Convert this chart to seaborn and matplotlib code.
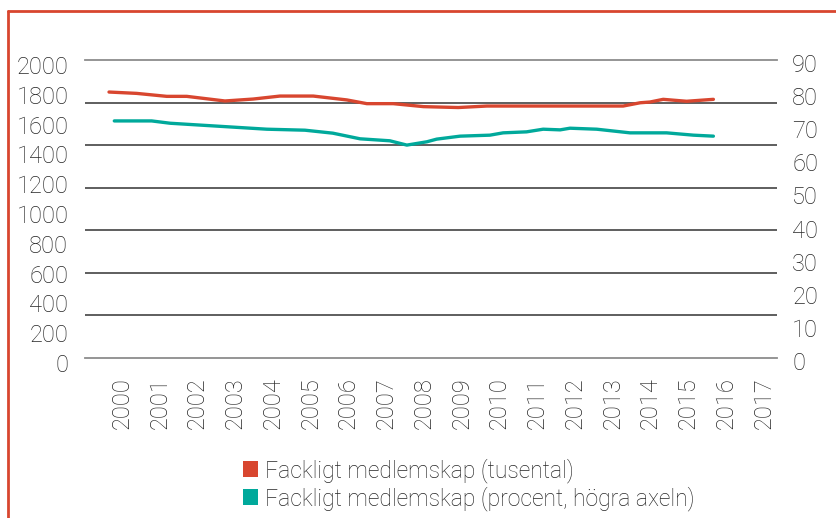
import matplotlib
matplotlib.use("Agg")
import matplotlib.pyplot as plt
import matplotlib.transforms as mtransforms
from matplotlib.patches import Patch
from matplotlib.lines import Line2D
import numpy as np
import seaborn as sns

# --- data ---
years = list(range(2000, 2018))

# fackligt medlemskap, tusental (left axis)
medlem_x = [2000.0, 2000.73, 2001.53, 2002.06, 2003.07, 2003.82, 2004.53, 2005.41,
            2006.30, 2006.83, 2007.53, 2008.33, 2009.25, 2010.01, 2013.62, 2014.07,
            2014.33, 2014.68, 2015.30, 2016.01]
medlem_tusental = [1785, 1776, 1756, 1756, 1725, 1738, 1758, 1758,
                   1732, 1707, 1707, 1687, 1681, 1691, 1691, 1713,
                   1718, 1736, 1723, 1736]

# fackligt medlemskap, procent (right axis)
procent_x = [2000.14, 2001.13, 2001.62, 2004.18, 2005.19, 2005.93, 2006.65, 2007.44,
             2007.89, 2008.42, 2008.68, 2009.30, 2010.09, 2010.44, 2011.06, 2011.50,
             2011.95, 2012.21, 2012.92, 2013.80, 2014.77, 2015.48, 2016.01]
procent = [71.6, 71.6, 70.9, 69.1, 68.8, 67.9, 66.2, 65.6,
           64.3, 65.3, 66.1, 67.0, 67.3, 68.0, 68.3, 69.1,
           68.9, 69.4, 69.1, 68.0, 68.0, 67.3, 67.0]

legend_labels = ["Fackligt medlemskap (tusental)",
                 "Fackligt medlemskap (procent, högra axeln)"]

RED = "#d8462f"
TEAL = "#00a99b"
TXT = "#262626"

sns.set_style("white")
plt.rcParams["font.family"] = ["Roboto", "DejaVu Sans"]

fig = plt.figure(figsize=(8.37, 5.18), dpi=100)
ax = fig.add_axes([85 / 837, 1 - 358 / 518, 692 / 837, 298 / 518])
ax2 = ax.twinx()

sns.lineplot(x=medlem_x, y=medlem_tusental, ax=ax, color=RED, lw=2.4, legend=False)
sns.lineplot(x=procent_x, y=procent, ax=ax2, color=TEAL, lw=2.4, legend=False)

ax.set_xlim(1999.364, 2017.695)
ax.set_ylim(0, 2000)
ax2.set_ylim(0, 90)

ax.set_yticks(range(0, 2001, 200))
ax2.set_yticks(range(0, 91, 10))
ax.set_yticks(np.linspace(0, 2000, 8)[1:-1], minor=True)
ax.grid(False)
ax2.grid(False)
ax.grid(which="minor", axis="y", color="#333333", lw=1.1)

ax.set_xticks(years)
ax.set_xticklabels([str(y) for y in years], rotation=90)

for a in (ax, ax2):
    a.tick_params(which="both", length=0, labelsize=17, labelcolor=TXT)
    for lab in a.get_yticklabels() + a.get_xticklabels():
        lab.set_fontweight("light")
ax.tick_params(axis="y", pad=12)
ax2.tick_params(axis="y", pad=11)
ax.tick_params(axis="x", pad=14)

# labels in the reference sit slightly off their ticks
dx = mtransforms.ScaledTranslation(13 / 100, 0, fig.dpi_scale_trans)
for lab in ax.get_xticklabels():
    lab.set_transform(lab.get_transform() + dx)
dy_left = mtransforms.ScaledTranslation(0, -5 / 100, fig.dpi_scale_trans)
for lab in ax.get_yticklabels():
    lab.set_transform(lab.get_transform() + dy_left)
dy_right = mtransforms.ScaledTranslation(0, -3 / 100, fig.dpi_scale_trans)
for lab in ax2.get_yticklabels():
    lab.set_transform(lab.get_transform() + dy_right)

for s in ("left", "right"):
    ax.spines[s].set_visible(False)
for s in ("top", "bottom"):
    ax.spines[s].set_color("#8c8c8c")
    ax.spines[s].set_linewidth(1.3)
for s in ax2.spines.values():
    s.set_visible(False)

handles = [Patch(facecolor=RED, edgecolor="none"), Patch(facecolor=TEAL, edgecolor="none")]
leg = fig.legend(handles, legend_labels, loc="upper left",
                 bbox_to_anchor=(243 / 837, 1 - 458 / 518), bbox_transform=fig.transFigure,
                 frameon=False, fontsize=16.5, handlelength=0.65, handleheight=0.7,
                 handletextpad=0.3, labelspacing=0.15, borderpad=0, borderaxespad=0)
for t in leg.get_texts():
    t.set_color(TXT)
    t.set_fontweight("light")

# red frame of the original figure
fig.add_artist(Line2D([8 / 837, 8 / 837], [0, 1 - 11 / 518], color=RED, lw=2,
                      transform=fig.transFigure))
fig.add_artist(Line2D([8 / 837, 1], [1 - 11 / 518, 1 - 11 / 518], color=RED, lw=2,
                      transform=fig.transFigure))

fig.savefig("out.png", dpi=100)
